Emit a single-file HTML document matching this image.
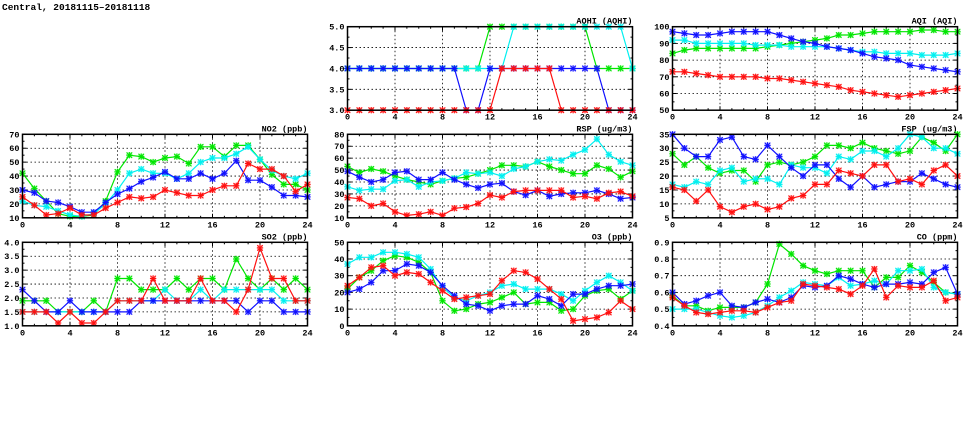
<!DOCTYPE html>
<html><head><meta charset="utf-8">
<style>
html,body{margin:0;padding:0;background:#fff;}
svg{display:block;}
text{font-family:"Liberation Mono","DejaVu Sans Mono",monospace;font-weight:bold;font-size:8.5px;fill:#000;}
</style></head>
<body>
<svg id="s" width="975" height="447" xmlns="http://www.w3.org/2000/svg">
<text x="2" y="10" style="font-size:9.5px">Central, 20181115–20181118</text>
</svg>
<script>
const S=document.getElementById('s');
const NS='http://www.w3.org/2000/svg';
function el(t,a,p){const e=document.createElementNS(NS,t);for(const k in a)e.setAttribute(k,a[k]);(p||S).appendChild(e);return e;}
const C={g:'#00e600',c:'#00f0f0',b:'#1010ff',r:'#ff1010'};
const panels=[
{x:347.5,y:26.7,t:'AQHI (AQHI)',min:3,max:5,step:0.5,fmt:v=>v.toFixed(1),d:{
g:[4,4,4,4,4,4,4,4,4,4,4,4,5,5,5,5,5,5,5,5,5,4,4,4,4],
c:[4,4,4,4,4,4,4,4,4,4,4,4,4,4,5,5,5,5,5,5,5,5,5,5,4],
b:[4,4,4,4,4,4,4,4,4,4,3,3,4,4,4,4,4,4,4,4,4,4,3,3,3],
r:[3,3,3,3,3,3,3,3,3,3,3,3,3,4,4,4,4,4,3,3,3,3,3,3,3]}},
{x:672.5,y:26.7,t:'AQI (AQI)',min:50,max:100,step:10,fmt:v=>v,d:{
g:[84,86,87,87,87,87,87,87,88,89,90,91,92,93,95,95,96,97,97,97,97,98,98,97,97],
c:[92,92,90,90,90,90,90,89,89,89,88,88,88,88,87,86,85,85,84,84,84,83,83,83,84],
b:[97,96,95,95,96,97,97,97,97,95,93,91,90,88,87,86,84,82,81,80,77,76,75,74,73],
r:[73,73,72,71,70,70,70,70,69,69,68,67,66,65,64,62,61,60,59,58,59,60,61,62,63]}},
{x:22.5,y:134.3,t:'NO2 (ppb)',min:10,max:70,step:10,fmt:v=>v,d:{
g:[42,31,22,13,11,11,12,22,43,55,54,50,53,54,49,61,61,54,62,62,52,41,34,34,30],
c:[22,19,18,15,12,11,13,20,30,42,45,42,42,38,42,50,53,53,56,61,52,44,40,38,42],
b:[30,28,22,21,18,14,14,21,27,31,36,39,43,38,38,42,38,42,51,37,37,32,26,26,25],
r:[25,19,12,13,17,12,12,17,21,25,24,25,30,28,26,26,30,33,33,49,45,45,40,29,34]}},
{x:347.5,y:134.3,t:'RSP (ug/m3)',min:10,max:80,step:10,fmt:v=>v,d:{
g:[53,48,51,49,45,42,40,38,41,43,44,47,50,54,54,53,57,53,50,47,47,54,51,44,49],
c:[36,33,34,34,41,42,36,40,41,43,48,47,48,45,51,53,57,59,58,63,67,76,63,57,54],
b:[49,44,40,42,48,49,42,42,48,42,38,35,38,39,32,29,33,28,30,31,31,33,30,26,27],
r:[27,26,20,22,15,12,13,15,12,18,19,22,29,27,32,33,33,33,33,27,28,26,31,32,28]}},
{x:672.5,y:134.3,t:'FSP (ug/m3)',min:5,max:35,step:5,fmt:v=>v,d:{
g:[28,24,27,23,21,22,22,18,24,25,24,25,27,31,31,30,32,30,29,28,29,34,32,29,35],
c:[17,16,18,17,22,23,18,19,19,17,24,23,23,21,27,26,29,29,27,30,35,34,30,30,28],
b:[35,30,27,27,33,34,27,26,31,27,23,20,24,24,19,16,20,16,17,18,18,21,19,17,16],
r:[16,15,11,15,9,7,9,10,8,9,12,13,17,17,22,21,20,24,24,18,19,17,22,24,20]}},
{x:22.5,y:242.3,t:'SO2 (ppb)',min:1,max:4,step:0.5,fmt:v=>v.toFixed(1),d:{
g:[1.9,1.9,1.9,1.5,1.5,1.5,1.9,1.5,2.7,2.7,2.3,2.3,2.3,2.7,2.3,2.7,2.7,2.3,3.4,2.7,2.3,2.7,2.3,2.7,2.3],
c:[1.5,1.5,1.5,1.5,1.5,1.5,1.5,1.5,1.9,1.9,1.9,1.9,2.3,1.9,1.9,2.3,1.9,2.3,2.3,2.3,2.3,2.3,1.9,1.9,1.9],
b:[2.3,1.9,1.5,1.5,1.9,1.5,1.5,1.5,1.5,1.5,1.9,1.9,1.9,1.9,1.9,1.9,1.9,1.9,1.9,1.5,1.9,1.9,1.5,1.5,1.5],
r:[1.5,1.5,1.5,1.1,1.5,1.1,1.1,1.5,1.9,1.9,1.9,2.7,1.9,1.9,1.9,2.7,1.9,1.9,1.5,2.3,3.8,2.7,2.7,1.9,1.9]}},
{x:347.5,y:242.3,t:'O3 (ppb)',min:0,max:50,step:10,fmt:v=>v,d:{
g:[22,29,33,39,42,41,38,32,15,9,10,13,14,17,20,13,14,14,9,10,18,21,22,16,21],
c:[37,41,41,44,44,43,41,34,23,17,15,18,20,24,25,22,22,22,19,15,21,26,30,26,21],
b:[20,22,26,33,33,37,36,32,24,18,13,12,9,12,13,13,18,16,12,19,19,22,24,24,25],
r:[24,29,35,36,30,32,31,26,21,16,17,18,19,27,33,32,28,22,16,3,4,5,8,15,10]}},
{x:672.5,y:242.3,t:'CO (ppm)',min:0.4,max:0.9,step:0.1,fmt:v=>v.toFixed(1),d:{
g:[.58,.52,.52,.49,.51,.51,.51,.54,.65,.89,.83,.76,.73,.71,.73,.73,.73,.63,.69,.69,.76,.72,.66,.60,.59],
c:[.50,.50,.50,.48,.46,.45,.46,.48,.52,.57,.61,.66,.65,.64,.69,.64,.65,.67,.65,.73,.73,.74,.63,.60,.59],
b:[.60,.53,.55,.58,.60,.52,.51,.54,.56,.54,.57,.64,.63,.64,.70,.68,.65,.63,.65,.65,.66,.65,.72,.75,.59],
r:[.57,.52,.48,.47,.48,.49,.49,.48,.51,.54,.55,.65,.64,.63,.62,.59,.64,.74,.57,.64,.63,.63,.67,.55,.57]}}
];
const W=285,H=83.5;
panels.forEach(p=>{
  const X=h=>p.x+h/24*W, Y=v=>p.y+H-(v-p.min)/(p.max-p.min)*H;
  const n=Math.round((p.max-p.min)/p.step);
  for(let i=1;i<n;i++){const y=Y(p.min+i*p.step);el('line',{x1:p.x,x2:p.x+W,y1:y,y2:y,stroke:'#000','stroke-width':0.8,'stroke-dasharray':'1.5,2.5'});}
  for(let h=4;h<24;h+=4){el('line',{x1:X(h),x2:X(h),y1:p.y,y2:p.y+H,stroke:'#000','stroke-width':0.8,'stroke-dasharray':'1.5,2.5'});}
  for(let h=1;h<24;h++){const L=h%4?2:4;el('line',{x1:X(h),x2:X(h),y1:p.y+H,y2:p.y+H-L,stroke:'#000','stroke-width':1});el('line',{x1:X(h),x2:X(h),y1:p.y,y2:p.y+L,stroke:'#000','stroke-width':1});}
  for(let i=0;i<=n*2;i++){const y=Y(p.min+i*p.step/2);const L=i%2?2:4;el('line',{x1:p.x,x2:p.x+L,y1:y,y2:y,stroke:'#000'});el('line',{x1:p.x+W,x2:p.x+W-L,y1:y,y2:y,stroke:'#000'});}
  for(let i=0;i<=n;i++){const v=p.min+i*p.step;const t=el('text',{x:p.x-3,y:Y(v)+3,'text-anchor':'end'});t.textContent=p.fmt(+v.toFixed(2));}
  for(let h=0;h<=24;h+=4){const t=el('text',{x:X(h),y:p.y+H+9.5,'text-anchor':'middle'});t.textContent=h;}
  const tt=el('text',{x:p.x+W,y:p.y-3,'text-anchor':'end'});tt.textContent=p.t;
  ['g','c','b','r'].forEach(k=>{
    const d=p.d[k];const pts=d.map((v,i)=>X(i).toFixed(1)+','+Y(v).toFixed(1)).join(' ');
    el('polyline',{points:pts,fill:'none',stroke:C[k],'stroke-width':1.2});
    d.forEach((v,i)=>{const x=X(i),y=Y(v);
      el('rect',{x:x-2.8,y:y-2.8,width:5.6,height:5.6,fill:C[k],opacity:0.35});
      el('path',{d:`M${x-2.8},${y-2.8}L${x+2.8},${y+2.8}M${x-2.8},${y+2.8}L${x+2.8},${y-2.8}M${x-3.2},${y}L${x+3.2},${y}M${x},${y-3.2}L${x},${y+3.2}`,stroke:C[k],'stroke-width':1});
    });
  });
  el('rect',{x:p.x,y:p.y,width:W,height:H,fill:'none',stroke:'#000','stroke-width':1.5});
});
</script>
</body></html>
